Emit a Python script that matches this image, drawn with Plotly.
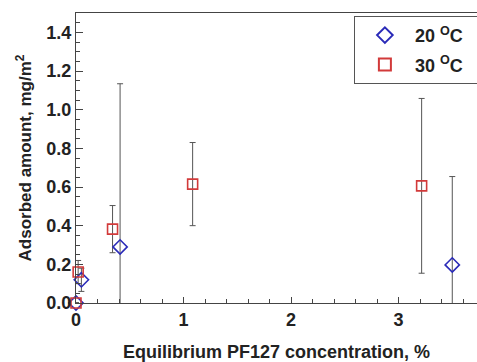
import plotly.graph_objects as go

# 20 °C series
x20 = [0.0, 0.05, 0.41, 3.50]
y20 = [0.0, 0.12, 0.29, 0.197]
e20 = [0.0, 0.06, 0.844, 0.457]

# 30 °C series
x30 = [0.0, 0.02, 0.34, 1.085, 3.215]
y30 = [0.0, 0.16, 0.382, 0.615, 0.606]
e30 = [0.0, 0.06, 0.122, 0.215, 0.452]

blue = "#2a2ab8"
red = "#d23a3a"
ebar = "#555555"
font = "Liberation Sans, Arial, sans-serif"
fs = 18

fig = go.Figure()

# error bars (clipped to plot area)
for xs, ys, es in [(x20, y20, e20), (x30, y30, e30)]:
    fig.add_trace(go.Scatter(
        x=xs, y=ys, mode="markers",
        marker=dict(size=1, color="rgba(0,0,0,0)"),
        error_y=dict(type="data", array=es, visible=True, color=ebar, thickness=1, width=3),
        showlegend=False, hoverinfo="skip", cliponaxis=True,
    ))

fig.add_trace(go.Scatter(
    x=x20, y=y20, mode="markers", name="20 <sup>O</sup>C\u00a0\u00a0\u00a0", legendgroup="a",
    marker=dict(symbol="diamond-open", size=11, color=blue, line=dict(width=1.6, color=blue)),
    cliponaxis=False,
))
fig.add_trace(go.Scatter(
    x=x30, y=y30, mode="markers", name="30 <sup>O</sup>C\u00a0\u00a0\u00a0", legendgroup="b",
    marker=dict(symbol="square-open", size=10, color=red, line=dict(width=1.6, color=red)),
    cliponaxis=False,
))

fig.update_layout(
    width=477, height=362,
    margin=dict(l=76, r=0, t=13, b=59, autoexpand=False),
    paper_bgcolor="white", plot_bgcolor="white",
    font=dict(family=font, size=fs, color="#222222"),
    legend=dict(
        x=0.693, y=0.99, xanchor="left", yanchor="top",
        bgcolor="white", bordercolor="#555555", borderwidth=1,
        font=dict(family=font, size=fs, color="#222222", weight="bold"),
        itemsizing="constant", itemwidth=50,
        tracegroupgap=3,
    ),
    showlegend=True,
)

fig.update_xaxes(
    range=[0, 3.73], showgrid=False, zeroline=False, automargin=False,
    showline=True, linecolor="#444444", linewidth=1, mirror=True,
    ticks="inside", ticklen=6, tickcolor="#444444", dtick=1, tick0=0,
    tickfont=dict(family=font, size=fs, color="#222222", weight="bold"),
    minor=dict(ticks="inside", ticklen=4, dtick=0.2, tickcolor="#444444", showgrid=False),
    title=dict(text="Equilibrium PF127 concentration, %", standoff=16,
               font=dict(family=font, size=fs, color="#222222", weight="bold")),
)
fig.update_yaxes(
    range=[0, 1.5], showgrid=False, zeroline=False, automargin=False,
    showline=True, linecolor="#444444", linewidth=1, mirror=False,
    ticks="inside", ticklen=7, tickcolor="#444444", dtick=0.2, tick0=0,
    tickformat=".1f",
    tickfont=dict(family=font, size=fs, color="#222222", weight="bold"),
    minor=dict(ticks="inside", ticklen=4, dtick=0.05, tickcolor="#444444", showgrid=False),
    title=dict(text="Adsorbed amount, mg/m<sup>2</sup>", standoff=10,
               font=dict(family=font, size=17, color="#222222", weight="bold")),
)

fig.write_html("out.html", config={"displayModeBar": False},
               post_script="document.body.style.margin='0';document.body.style.overflow='hidden';")
